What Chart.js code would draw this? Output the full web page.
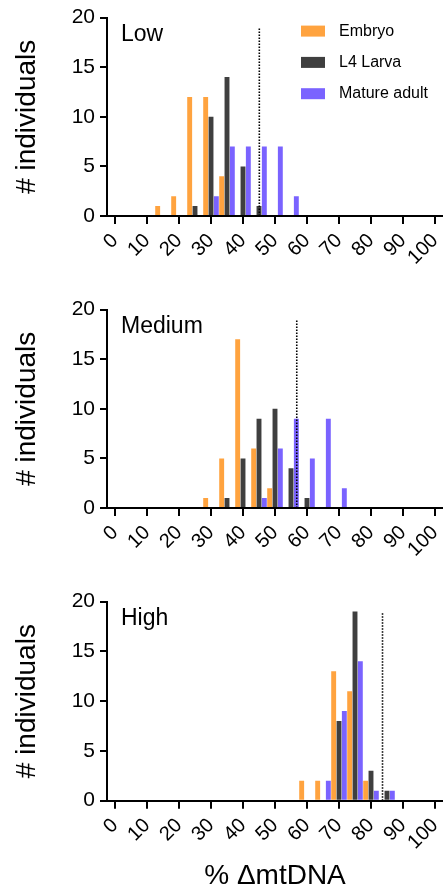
<!DOCTYPE html>
<html>
<head>
<meta charset="utf-8">
<script src="https://cdn.jsdelivr.net/npm/chart.js@4.4.1/dist/chart.umd.min.js"></script>
<style>
  body { margin: 0; background: #fff; }
  canvas { display: block; }
</style>
</head>
<body>
<canvas id="lowChart" width="443" height="292"></canvas>
<canvas id="mediumChart" width="443" height="292"></canvas>
<canvas id="highChart" width="443" height="311"></canvas>
<script>
// histogram bins (% deltamtDNA), 5% wide
var bins = ['0', '5', '10', '15', '20', '25', '30', '35', '40', '45', '50',
  '55', '60', '65', '70', '75', '80', '85', '90', '95', '100'];

var seriesNames = ['Embryo', 'L4 Larva', 'Mature adult'];
var seriesColors = ['#ffa33f', '#3f3f3f', '#7a63ff'];

// Low
var embryoLow = [0, 0, 0, 1, 2, 12, 12, 4, 0, 0, 0, 0, 0, 0, 0, 0, 0, 0, 0, 0, 0];
var larvaLow  = [0, 0, 0, 0, 0, 1, 10, 14, 5, 1, 0, 0, 0, 0, 0, 0, 0, 0, 0, 0, 0];
var adultLow  = [0, 0, 0, 0, 0, 0, 2, 7, 7, 7, 7, 2, 0, 0, 0, 0, 0, 0, 0, 0, 0];
// Medium
var embryoMed = [0, 0, 0, 0, 0, 0, 1, 5, 17, 6, 2, 0, 0, 0, 0, 0, 0, 0, 0, 0, 0];
var larvaMed  = [0, 0, 0, 0, 0, 0, 0, 1, 5, 9, 10, 4, 1, 0, 0, 0, 0, 0, 0, 0, 0];
var adultMed  = [0, 0, 0, 0, 0, 0, 0, 0, 0, 1, 6, 9, 5, 9, 2, 0, 0, 0, 0, 0, 0];
// High
var embryoHigh = [0, 0, 0, 0, 0, 0, 0, 0, 0, 0, 0, 0, 2, 2, 13, 11, 2, 0, 0, 0, 0];
var larvaHigh  = [0, 0, 0, 0, 0, 0, 0, 0, 0, 0, 0, 0, 0, 0, 8, 19, 3, 1, 0, 0, 0];
var adultHigh  = [0, 0, 0, 0, 0, 0, 0, 0, 0, 0, 0, 0, 0, 2, 9, 14, 1, 1, 0, 0, 0];

// dotted reference lines: x position and top
var cutoffs = [45.1, 56.8, 83.6];
var cutoffTop = 18.9;

Chart.defaults.font.family = '"Liberation Sans", Arial, Helvetica, sans-serif';
Chart.defaults.color = '#000';

// panel name, key and dotted cutoff line, placed with the chart's own scales
var panelText = {
  id: 'panelText',
  afterDatasetsDraw: function(chart, args, opts) {
    var ctx = chart.ctx;
    var area = chart.chartArea;
    var xs = chart.scales.x2, ys = chart.scales.y;
    ctx.save();

    var cx = xs.getPixelForValue(opts.cutoff);
    ctx.strokeStyle = '#000';
    ctx.lineWidth = 1.6;
    ctx.setLineDash([1.5, 1.5]);
    ctx.beginPath();
    ctx.moveTo(cx, ys.getPixelForValue(0));
    ctx.lineTo(cx, ys.getPixelForValue(cutoffTop));
    ctx.stroke();
    ctx.setLineDash([]);

    ctx.fillStyle = '#000';
    ctx.font = '23px "Liberation Sans", Arial, sans-serif';
    ctx.textBaseline = 'alphabetic';
    ctx.textAlign = 'left';
    ctx.fillText(opts.label, area.left + 14, area.top + 23.5);

    if (opts.key) {
      ctx.font = '16px "Liberation Sans", Arial, sans-serif';
      ctx.textBaseline = 'middle';
      chart.data.datasets.forEach(function(ds, row) {
        var cy = area.top + 13.5 + row * 31.3;
        ctx.fillStyle = ds.backgroundColor;
        ctx.fillRect(area.left + 194, cy - 5.5, 24, 11);
        ctx.fillStyle = '#000';
        ctx.fillText(ds.label, area.left + 232, cy);
      });
    }
    ctx.restore();
  }
};

function makeChart(id, label, counts, cutoff, showKey, showTitle) {
  var axisHeight = showTitle ? 94.3 : 76;
  var datasets = [];
  for (var i = 0; i < counts.length; i++) {
    datasets.push({
      label: seriesNames[i],
      data: counts[i],
      backgroundColor: seriesColors[i],
      borderWidth: 0
    });
  }

  return new Chart(document.getElementById(id), {
    type: 'bar',
    data: { labels: bins, datasets: datasets },
    options: {
      responsive: false,
      animation: false,
      layout: { padding: { top: 15, left: 0, right: 0, bottom: 0 } },
      datasets: { bar: { categoryPercentage: 1, barPercentage: 0.92 } },
      plugins: {
        legend: { display: false },
        tooltip: { enabled: false },
        panelText: { label: label, key: showKey, cutoff: cutoff }
      },
      scales: {
        x: { display: false },
        // value axis in % that carries the visible ticks, same span as the bins
        x2: {
          type: 'linear',
          position: 'bottom',
          min: -2.5,
          max: 102.5,
          offset: false,
          border: { display: true, width: 2, color: '#000' },
          grid: { offset: false, drawOnChartArea: false, drawTicks: true, tickLength: 8, lineWidth: 2, color: '#000' },
          ticks: {
            stepSize: 10,
            includeBounds: false,
            autoSkip: false,
            minRotation: 45,
            maxRotation: 45,
            padding: 5,
            font: { size: 20 }
          },
          title: {
            display: showTitle,
            text: '% ΔmtDNA',
            font: { size: 28 },
            padding: { top: 0, bottom: 2 }
          },
          afterFit: function(scale) {
            scale.height = axisHeight;
            scale.paddingLeft = 0;
            scale.paddingRight = 0;
          }
        },
        y: {
          min: 0,
          max: 20,
          border: { display: true, width: 2, color: '#000' },
          grid: { drawOnChartArea: false, drawTicks: true, tickLength: 7, lineWidth: 2, color: '#000' },
          ticks: { stepSize: 5, padding: 5, font: { size: 21 } },
          title: {
            display: true,
            text: '# individuals',
            font: { size: 28 },
            padding: { top: 10.7, bottom: 0 }
          },
          afterFit: function(scale) {
            scale.width = 107;
          }
        }
      }
    },
    plugins: [panelText]
  });
}

makeChart('lowChart', 'Low', [embryoLow, larvaLow, adultLow], cutoffs[0], true, false);
makeChart('mediumChart', 'Medium', [embryoMed, larvaMed, adultMed], cutoffs[1], false, false);
makeChart('highChart', 'High', [embryoHigh, larvaHigh, adultHigh], cutoffs[2], false, true);
</script>
</body>
</html>
